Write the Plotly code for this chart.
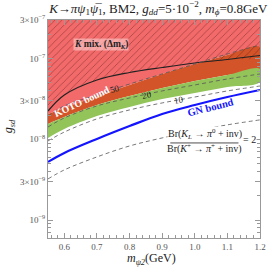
import plotly.graph_objects as go

mass = [0.55, 0.6, 0.7, 0.8, 0.9, 1.0, 1.1, 1.2]
g_top = 3e-7
kmix = [2.24e-8, 3.54e-8, 5.43e-8, 6.72e-8, 7.75e-8, 8.81e-8, 9.73e-8, 1.09e-7]
koto = [2.06e-8, 2.44e-8, 3.44e-8, 4.71e-8, 6.44e-8, 8.56e-8, 1.106e-7, 1.39e-7]
band_mid = [1.55e-8, 1.89e-8, 2.66e-8, 3.44e-8, 4.32e-8, 5.28e-8, 6.26e-8, 7.43e-8]
band_low = [1.04e-8, 1.34e-8, 1.94e-8, 2.51e-8, 3.15e-8, 3.75e-8, 4.45e-8, 5.13e-8]
r50 = [1.95e-8, 2.59e-8, 3.54e-8, 4.84e-8, 6.44e-8, 8.56e-8, 1.14e-7, 1.47e-7]
r20 = [1.42e-8, 1.84e-8, 2.59e-8, 3.25e-8, 3.97e-8, 4.71e-8, 5.58e-8, 6.44e-8]
r10 = [9.54e-9, 1.23e-8, 1.79e-8, 2.31e-8, 2.82e-8, 3.34e-8, 3.97e-8, 4.57e-8]
gn = [5.25e-9, 6.78e-9, 1.01e-8, 1.46e-8, 2.06e-8, 2.66e-8, 3.34e-8, 4.08e-8]
r2 = [3.23e-9, 4.18e-9, 6.05e-9, 8.27e-9, 1.04e-8, 1.27e-8, 1.51e-8, 1.74e-8]

y_ticks = [1e-9, 3e-9, 1e-8, 3e-8, 1e-7, 3e-7]
y_ticktext = ["10<sup>−9</sup>", "3×10<sup>−9</sup>", "10<sup>−8</sup>", "3×10<sup>−8</sup>", "10<sup>−7</sup>", "3×10<sup>−7</sup>"]
x_ticks = [0.6, 0.7, 0.8, 0.9, 1.0, 1.1, 1.2]

SERIF = "Liberation Serif"
LIGHT_RED = "#f26a6a"
ORANGE = "#d4542a"
GREEN = "#92c45a"

rev = mass[::-1]
fig = go.Figure()
fig.add_trace(go.Scatter(x=mass + rev, y=koto + [g_top] * len(mass), fill="toself",
                         fillcolor=LIGHT_RED, line=dict(width=0, shape="spline"), mode="lines", hoverinfo="skip"))
fig.add_trace(go.Scatter(x=mass + rev, y=koto + band_mid[::-1], fill="toself",
                         fillcolor=ORANGE, line=dict(width=0, shape="spline"), mode="lines", hoverinfo="skip"))
fig.add_trace(go.Scatter(x=mass + rev, y=band_mid + band_low[::-1], fill="toself",
                         fillcolor=GREEN, line=dict(width=0, shape="spline"), mode="lines", hoverinfo="skip"))
fig.add_trace(go.Scatter(x=mass + rev, y=kmix + [g_top] * len(mass), fill="toself",
                         fillcolor="rgba(0,0,0,0)",
                         fillpattern=dict(shape="/", fgcolor="rgba(50,0,0,0.8)", bgcolor="rgba(0,0,0,0)",
                                          size=5, solidity=0.15),
                         line=dict(width=0, shape="spline"), mode="lines", hoverinfo="skip"))
fig.add_trace(go.Scatter(x=mass, y=kmix, mode="lines", line=dict(color="#222", width=1.2, shape="spline")))
for arr in (r50, r20, r10, r2):
    fig.add_trace(go.Scatter(x=mass, y=arr, mode="lines",
                             line=dict(color="#555", width=0.8, dash="4px,3px", shape="spline")))
fig.add_trace(go.Scatter(x=mass, y=gn, mode="lines", line=dict(color="#1414ff", width=2.2, shape="spline")))

ann = [
    dict(x=0.711, y=-6.832, text="<b><i>K</i> mix. (Δm<sub><i>K</i></sub>)</b>", font=dict(size=9.5, color="#222", family=SERIF),
         bgcolor="rgba(255,215,215,0.55)", borderpad=0),
    dict(x=0.654, y=-7.5377, text="<b>KOTO bound</b>", textangle=-25, font=dict(size=10, color="white", family=SERIF)),
    dict(x=0.756, y=-7.377, text="50", textangle=-15, font=dict(size=9, color="#222", family=SERIF)),
    dict(x=0.854, y=-7.451, text="20", textangle=-13, font=dict(size=9, color="#222", family=SERIF)),
    dict(x=0.953, y=-7.513, text="10", textangle=-10, font=dict(size=9, color="#222", family=SERIF)),
    dict(x=1.048, y=-7.612, text="<b>GN bound</b>", textangle=-14, font=dict(size=10.5, color="#1414ff", family=SERIF)),
    dict(x=1.030, y=-7.934, text="Br(<i>K<sub>L</sub></i> → <i>π</i><sup>0</sup> + inv)", font=dict(size=10, color="#222", family=SERIF),
         bgcolor="white", borderpad=0),
    dict(x=1.030, y=-8.109, text="Br(<i>K</i><sup>+</sup> → <i>π</i><sup>+</sup> + inv)", font=dict(size=10, color="#222", family=SERIF)),
    dict(x=1.168, y=-8.008, text="= 2", font=dict(size=10, color="#222", family=SERIF), bgcolor="white", borderpad=0),
]
for a in ann:
    a.update(xref="x", yref="y", showarrow=False)
ann.append(dict(xref="paper", yref="paper", x=0.49, y=-0.095, text="<i>m<sub>ψ2</sub></i>(GeV)",
                showarrow=False, font=dict(family=SERIF, size=12, color="#222"), yanchor="middle"))
ann.append(dict(xref="paper", yref="paper", x=-0.183, y=0.514, text="<i>g<sub>sd</sub></i>", textangle=-90,
                showarrow=False, font=dict(family=SERIF, size=12, color="#222"), xanchor="center"))

fig.add_shape(type="line", xref="x", yref="y", x0=0.925, x1=1.134, y0=10 ** -8.045, y1=10 ** -8.045,
              line=dict(color="#222", width=0.8))

axis_common = dict(showgrid=False, zeroline=False, showline=True, linecolor="#999", linewidth=1,
                   mirror="ticks", ticks="inside", tickcolor="#999", ticklen=5,
                   tickfont=dict(family=SERIF, size=9, color="#555"))

minor_y = [k * 10 ** e for e in (-10, -9, -8, -7) for k in range(2, 10) if 6e-10 <= k * 10 ** e <= 3e-7]

fig.update_layout(
    width=273, height=269, margin=dict(l=48, r=7, t=20, b=31),
    paper_bgcolor="white", plot_bgcolor="white", showlegend=False,
    title=dict(text="<i>K</i>→<i>πψ</i><sub>1</sub><i>ψ̅</i><sub>1</sub>, BM2, <i>g<sub>dd</sub></i>=5·10<sup>−2</sup>, <i>m<sub>ϕ</sub></i>=0.8GeV",
               x=0.58, xanchor="center", y=0.97, yanchor="middle",
               font=dict(family=SERIF, size=13, color="#222")),
    xaxis=dict(range=[0.55, 1.2], tickvals=x_ticks, ticktext=[f"{v:.1f}" for v in x_ticks],
               minor=dict(dtick=0.02, ticklen=3, tickcolor="#999", ticks="inside"),
               **axis_common),
    yaxis=dict(type="log", range=[-9.2218, -6.5229], tickvals=y_ticks, ticktext=y_ticktext,
               minor=dict(tickvals=minor_y, ticklen=3, tickcolor="#999", ticks="inside"),
               **axis_common),
    annotations=ann,
)

fig.write_html("out.html", config={"displayModeBar": False},
               post_script="document.body.style.margin='0';document.body.style.overflow='hidden';")
